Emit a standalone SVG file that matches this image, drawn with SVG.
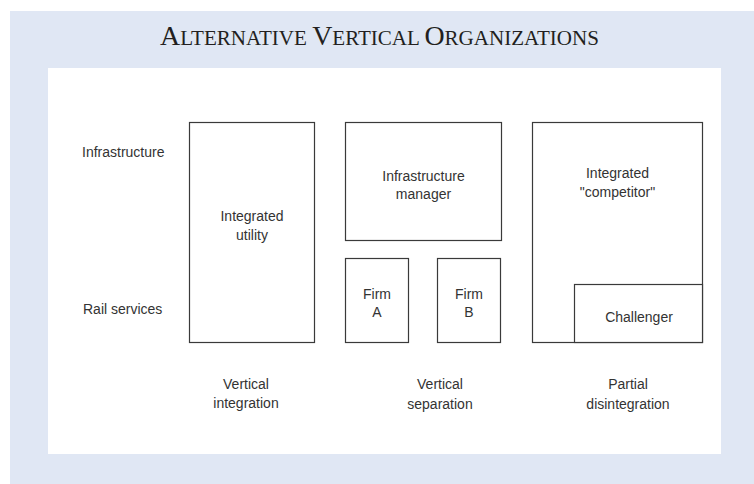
<svg xmlns="http://www.w3.org/2000/svg" width="754" height="484" viewBox="0 0 754 484">
<style>
.box{fill:#ffffff;stroke:#3a3a3a;stroke-width:1.2}
.lbl{font-family:"Liberation Sans",Arial,sans-serif;font-size:14px;fill:#333333;text-anchor:middle}
.side{font-family:"Liberation Sans",Arial,sans-serif;font-size:14px;fill:#333333;text-anchor:start}
.title{font-family:"Liberation Serif","Times New Roman",serif;fill:#231f20;text-anchor:middle}
</style>
<rect x="0" y="0" width="754" height="484" fill="#ffffff"/>
<rect id="frame" x="10" y="11" width="744" height="473" fill="#e0e7f4"/>
<rect id="panel" x="48" y="68" width="673" height="386" fill="#ffffff"/>
<text id="title" class="title" x="379.5" y="45" font-size="20" textLength="439" lengthAdjust="spacingAndGlyphs"><tspan font-size="26.5">A</tspan>LTERNATIVE <tspan font-size="26.5">V</tspan>ERTICAL <tspan font-size="26.5">O</tspan>RGANIZATIONS</text>
<g id="row-labels">
<text class="side" x="82" y="157">Infrastructure</text>
<text class="side" x="83" y="314">Rail services</text>
</g>
<g id="integrated-utility">
<rect class="box" x="189.5" y="122.5" width="125" height="220"/>
<text class="lbl" x="252" y="221">Integrated</text>
<text class="lbl" x="252" y="240">utility</text>
</g>
<g id="infrastructure-manager">
<rect class="box" x="345.5" y="122.5" width="156" height="118"/>
<text class="lbl" x="423.5" y="181">Infrastructure</text>
<text class="lbl" x="423.5" y="199">manager</text>
</g>
<g id="firm-a">
<rect class="box" x="345.5" y="258.5" width="63" height="84"/>
<text class="lbl" x="377" y="299">Firm</text>
<text class="lbl" x="377" y="317">A</text>
</g>
<g id="firm-b">
<rect class="box" x="437.5" y="258.5" width="63" height="84"/>
<text class="lbl" x="469" y="299">Firm</text>
<text class="lbl" x="469" y="317">B</text>
</g>
<g id="integrated-competitor">
<rect class="box" x="532.5" y="122.5" width="170" height="220"/>
<text class="lbl" x="617.5" y="178">Integrated</text>
<text class="lbl" x="617.5" y="197">"competitor"</text>
</g>
<g id="challenger">
<rect class="box" x="574.5" y="284.5" width="128" height="58"/>
<text class="lbl" x="639" y="322">Challenger</text>
</g>
<g id="connectors"></g>
<g id="captions">
<text class="lbl" x="246" y="389">Vertical</text>
<text class="lbl" x="246" y="408">integration</text>
<text class="lbl" x="440" y="389">Vertical</text>
<text class="lbl" x="440" y="409">separation</text>
<text class="lbl" x="628" y="389">Partial</text>
<text class="lbl" x="628" y="409">disintegration</text>
</g>
</svg>
